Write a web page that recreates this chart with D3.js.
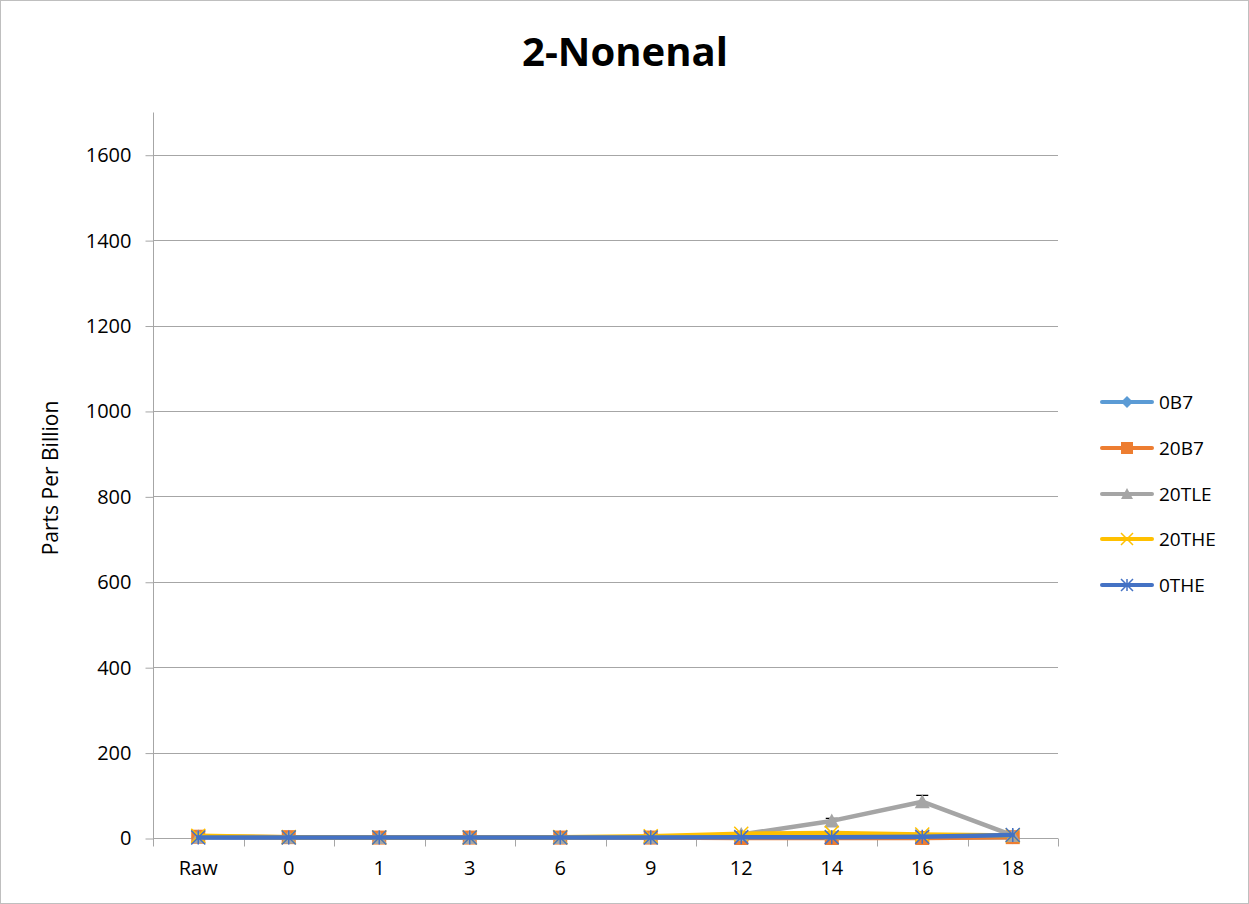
<!DOCTYPE html>
<html>
<head>
<meta charset="utf-8">
<script src="https://cdn.jsdelivr.net/npm/d3@7"></script>
<style>
  html, body { margin: 0; padding: 0; background: #fff; }
  svg { display: block; }
  text { font-family: "Open Sans", "Liberation Sans", sans-serif; fill: #000; }
</style>
</head>
<body>
<svg id="chart" width="1249" height="904"></svg>
<script>
// Sampling points (days) and 2-nonenal concentrations (ppb) per treatment
const categories = ["Raw", "0", "1", "3", "6", "9", "12", "14", "16", "18"];
const s0B7   = [2, 1, 1, 1, 1, 1, 1, 1, 1, 2];
const s20B7  = [3, 2, 1, 1, 1, 1, 0, 0, 0, 2];
const s20TLE = [3, 2, 1, 1, 1, 2, 8, 40, 85, 6];
const s20THE = [5, 2, 1, 1, 2, 4, 10, 12, 8, 6];
const s0THE  = [1, 1, 1, 1, 1, 1, 2, 2, 3, 7];
const err20TLE = [0, 0, 0, 0, 0, 0, 0, 6, 15, 0];
const yTicks = [0, 200, 400, 600, 800, 1000, 1200, 1400, 1600];

const series = [
  { name: "0B7",   values: s0B7,   color: "#5B9BD5", marker: "diamond" },
  { name: "20B7",  values: s20B7,  color: "#ED7D31", marker: "square" },
  { name: "20TLE", values: s20TLE, color: "#A5A5A5", marker: "triangle", err: err20TLE },
  { name: "20THE", values: s20THE, color: "#FFC000", marker: "x" },
  { name: "0THE",  values: s0THE,  color: "#4472C4", marker: "star" }
];

const svg = d3.select("#chart");
const W = 1249, H = 904;
const plot = { left: 153, right: 1058, top: 112, bottom: 838 };

// outer frame
svg.append("rect").attr("x", 0.5).attr("y", 0.5).attr("width", W - 1).attr("height", H - 1)
  .attr("fill", "#fff").attr("stroke", "#BFBFBF").attr("stroke-width", 1);

const x = d3.scaleBand().domain(categories).range([plot.left, plot.right]).paddingInner(0).paddingOuter(0);
const y = d3.scaleLinear().domain([0, 1700]).range([plot.bottom, plot.top]);
const cx = c => x(c) + x.bandwidth() / 2;

// horizontal gridlines
svg.append("g").selectAll("line").data(yTicks.filter(t => t > 0)).join("line")
  .attr("x1", plot.left).attr("x2", plot.right)
  .attr("y1", d => Math.round(y(d)) + 0.5).attr("y2", d => Math.round(y(d)) + 0.5)
  .attr("stroke", "#A6A6A6").attr("stroke-width", 1);

// y axis
const yAxis = d3.axisLeft(y).tickValues(yTicks).tickFormat(d3.format("d")).tickSize(8).tickPadding(14);
const gy = svg.append("g").attr("transform", `translate(${plot.left + 0.5},0.5)`).call(yAxis);
gy.select(".domain").attr("stroke", "#A6A6A6").attr("d", `M0,${plot.top}V${plot.bottom}`);
gy.selectAll(".tick line").attr("stroke", "#A6A6A6");
gy.selectAll(".tick text").attr("font-size", 20).attr("font-family", "Open Sans, sans-serif").attr("fill", "#000");

// x axis
const xAxis = d3.axisBottom(x).tickSize(0).tickPadding(22);
const gx = svg.append("g").attr("transform", `translate(0,${Math.round(plot.bottom) + 0.5})`).call(xAxis);
gx.select(".domain").attr("stroke", "#A6A6A6").attr("d", `M${plot.left},0H${plot.right}`);
gx.selectAll(".tick text").attr("font-size", 20).attr("font-family", "Open Sans, sans-serif").attr("fill", "#000");
// category boundary tick marks
const bounds = categories.map(c => x(c)).concat([plot.right]);
gx.append("g").selectAll("line").data(bounds).join("line")
  .attr("x1", d => Math.round(d) + 0.5).attr("x2", d => Math.round(d) + 0.5)
  .attr("y1", 0).attr("y2", 8).attr("stroke", "#A6A6A6");

// axis title
svg.append("text")
  .attr("transform", `translate(58,${(plot.top + plot.bottom) / 2 + 3}) rotate(-90)`)
  .attr("text-anchor", "middle").attr("font-size", 21).text("Parts Per Billion");

// chart title
const title = svg.append("text").attr("x", 625).attr("y", 66).attr("text-anchor", "middle")
  .attr("font-size", 40).attr("font-weight", "bold").text("2-Nonenal");
const tw = title.node().getComputedTextLength();
title.attr("font-size", 40 * 206 / tw);

// marker drawing
function drawMarker(g, type, color, size) {
  const s = size;
  if (type === "diamond") {
    g.append("path").attr("d", `M0,${-s / 2}L${s / 2},0L0,${s / 2}L${-s / 2},0Z`).attr("fill", color);
  } else if (type === "square") {
    g.append("rect").attr("x", -s / 2).attr("y", -s / 2).attr("width", s).attr("height", s).attr("fill", color);
  } else if (type === "triangle") {
    g.append("path").attr("d", `M0,${-s / 2}L${s / 2},${s / 2 - 1}L${-s / 2},${s / 2 - 1}Z`).attr("fill", color);
  } else if (type === "x") {
    const r = s / 2;
    g.append("path").attr("d", `M${-r},${-r}L${r},${r}M${-r},${r}L${r},${-r}`)
      .attr("stroke", color).attr("stroke-width", 1.5).attr("fill", "none");
  } else if (type === "star") {
    const r = s / 2;
    g.append("path").attr("d", `M${-r},${-r}L${r},${r}M${-r},${r}L${r},${-r}M0,${-r}V${r}`)
      .attr("stroke", color).attr("stroke-width", 1.5).attr("fill", "none");
  }
}

const line = d3.line().x((d, i) => cx(categories[i])).y(d => y(d));

series.forEach(s => {
  const g = svg.append("g");
  if (s.err) {
    const bars = s.values.map((v, i) => ({ c: categories[i], v, e: s.err[i] })).filter(d => d.e > 0);
    g.append("g").selectAll("path").data(bars).join("path")
      .attr("d", d => {
        const px = cx(d.c);
        const top = y(d.v + d.e), bot = y(d.v - d.e);
        return `M${px},${bot}V${top}M${px - 6},${top}H${px + 6}`;
      })
      .attr("stroke", "#000").attr("stroke-width", 1.2).attr("fill", "none");
  }
  g.append("path").datum(s.values).attr("d", line)
    .attr("fill", "none").attr("stroke", s.color).attr("stroke-width", 4.5)
    .attr("stroke-linejoin", "round").attr("stroke-linecap", "round");
  s.values.forEach((v, i) => {
    const mg = g.append("g").attr("transform", `translate(${cx(categories[i])},${y(v)})`);
    drawMarker(mg, s.marker, s.color, s.marker === "triangle" ? 15 : 14);
  });
});

// legend
const legend = svg.append("g");
const legY = [402, 448, 494, 539, 585];
series.forEach((s, i) => {
  const g = legend.append("g").attr("transform", `translate(0,${legY[i]})`);
  g.append("line").attr("x1", 1102).attr("x2", 1152).attr("y1", 0).attr("y2", 0)
    .attr("stroke", s.color).attr("stroke-width", 4).attr("stroke-linecap", "round");
  const mg = g.append("g").attr("transform", "translate(1127,0)");
  drawMarker(mg, s.marker, s.color, 12);
  g.append("text").attr("x", 1159).attr("y", 7).attr("font-size", 19).text(s.name);
});
</script>
</body>
</html>
